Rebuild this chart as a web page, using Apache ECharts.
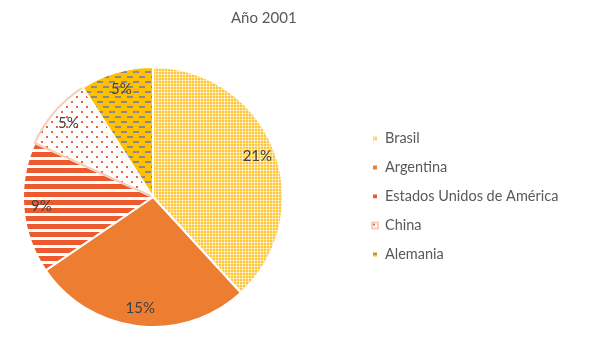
<!DOCTYPE html>
<html>
<head>
<meta charset="utf-8">
<script src="https://cdn.jsdelivr.net/npm/echarts@6/dist/echarts.min.js"></script>
<style>
  html, body { margin: 0; padding: 0; background: #fff; }
  #chart { width: 590px; height: 342px; }
</style>
</head>
<body>
<div id="chart"></div>
<script>
const paises = ['Brasil', 'Argentina', 'Estados Unidos de América', 'China', 'Alemania']
const valores = [21, 15, 9, 5, 5]

// pattern fills, drawn on small canvases
const makePattern = (w, h, draw) => {
  const c = document.createElement('canvas')
  c.width = w
  c.height = h
  draw(c.getContext('2d'))
  return { image: c, repeat: 'repeat' }
}

const brasilFill = makePattern(3, 3, (ctx) => {
  ctx.fillStyle = '#FFC637'
  ctx.fillRect(0, 0, 3, 3)
  ctx.fillStyle = 'rgba(255,255,255,0.55)'
  ctx.fillRect(2, 0, 1, 3)
  ctx.fillRect(0, 2, 3, 1)
})
const eeuuFill = makePattern(8, 8, (ctx) => {
  ctx.fillStyle = '#ffffff'
  ctx.fillRect(0, 0, 8, 8)
  ctx.fillStyle = '#EE5A2D'
  ctx.fillRect(0, 0, 8, 5)
})
const chinaFill = makePattern(10, 10, (ctx) => {
  ctx.fillStyle = '#ffffff'
  ctx.fillRect(0, 0, 10, 10)
  ctx.fillStyle = '#F2613E'
  ctx.fillRect(1, 1, 2, 2)
  ctx.fillRect(6, 6, 2, 2)
})
const alemaniaFill = makePattern(12, 10, (ctx) => {
  ctx.fillStyle = '#FFC000'
  ctx.fillRect(0, 0, 12, 10)
  ctx.fillStyle = '#8A8A8A'
  ctx.fillRect(1, 1, 6, 2)
  ctx.fillRect(7, 6, 5, 2)
  ctx.fillRect(0, 6, 1, 2)
})
const colores = [brasilFill, '#ED7D31', eeuuFill, chinaFill, alemaniaFill]

const chart = echarts.init(document.getElementById('chart'))

const center = [153, 197]
const font = 'Lato, "Open Sans", sans-serif'

const option = {
  animation: false,
  title: {
    text: 'Año 2001',
    left: 226,
    top: 6,
    textStyle: { fontFamily: font, fontSize: 15, fontWeight: 'normal', color: '#595959' }
  },
  legend: {
    orient: 'vertical',
    left: 366,
    top: 126,
    itemWidth: 6,
    itemHeight: 6,
    itemGap: 14,
    icon: 'rect',
    data: paises,
    textStyle: { fontFamily: font, fontSize: 14.5, color: '#595959', padding: [0, 0, 0, 2] }
  },
  series: [
    {
      type: 'pie',
      center,
      radius: [0, 130],
      startAngle: 90,
      clockwise: true,
      label: { show: false },
      labelLine: { show: false },
      itemStyle: { borderColor: '#ffffff', borderWidth: 2 },
      data: paises.map((p, i) => ({
        name: p,
        value: valores[i],
        itemStyle: i === 3
          ? { color: colores[i], borderColor: '#F6CDB8', borderWidth: 2 }
          : { color: colores[i] }
      }))
    },
    {
      // transparent ring only to place the labels near the rim
      type: 'pie',
      center,
      radius: [88, 130],
      startAngle: 90,
      silent: true,
      legendHoverLink: false,
      itemStyle: { color: 'rgba(0,0,0,0)' },
      label: {
        show: true,
        position: 'inside',
        formatter: '{c}%',
        fontFamily: font,
        fontSize: 15,
        color: '#404040'
      },
      labelLine: { show: false },
      data: valores.map((v, i) => ({ name: paises[i] + ' ', value: v }))
    }
  ]
}

chart.setOption(option)
</script>
</body>
</html>
